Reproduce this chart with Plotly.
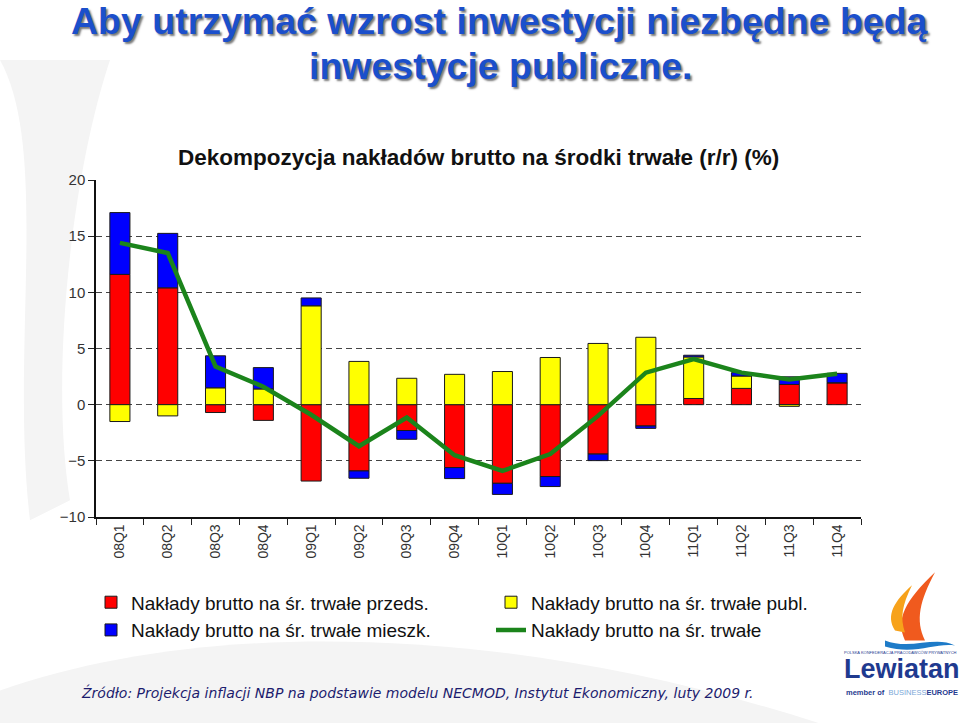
import plotly.graph_objects as go

# ---- data ----
quarters = ["08Q1", "08Q2", "08Q3", "08Q4", "09Q1", "09Q2", "09Q3", "09Q4",
            "10Q1", "10Q2", "10Q3", "10Q4", "11Q1", "11Q2", "11Q3", "11Q4"]
przeds = [11.6, 10.4, -0.7, -1.4, -6.8, -5.9, -2.3, -5.6,
          -7.0, -6.4, -4.4, -1.9, 0.55, 1.45, 1.8, 1.95]
publ = [-1.5, -1.0, 1.5, 1.4, 8.8, 3.85, 2.35, 2.7,
        2.95, 4.2, 5.45, 6.0, 3.7, 1.1, -0.15, 0.0]
mieszk = [5.5, 4.85, 2.85, 1.9, 0.7, -0.65, -0.78, -0.98,
          -0.99, -0.89, -0.58, -0.21, 0.15, 0.3, 0.68, 0.84]
ogolem = [14.4, 13.5, 3.4, 1.6, -0.9, -3.7, -1.15, -4.5,
          -5.9, -4.4, -1.0, 2.85, 4.05, 2.85, 2.25, 2.75]
y_ticks = [-10, -5, 0, 5, 10, 15, 20]

names = ["Nakłady brutto na śr. trwałe przeds.",
         "Nakłady brutto na śr. trwałe publ.",
         "Nakłady brutto na śr. trwałe mieszk.",
         "Nakłady brutto na śr. trwałe"]

# ---- layout geometry (pixels) ----
W, H = 959, 723
L, R, T, B = 96, 861, 180, 516.7
def px(x):
    return (x - L) / (R - L)
def py(y):
    return (B - y) / (B - T)

FONT = "Liberation Sans, Arial, sans-serif"

fig = go.Figure()
bar_line = dict(color="#1a1a1a", width=1)
fig.add_trace(go.Bar(x=quarters, y=przeds, name=names[0],
                     marker=dict(color="#FF0000", line=bar_line)))
fig.add_trace(go.Bar(x=quarters, y=publ, name=names[1],
                     marker=dict(color="#FFFF00", line=bar_line)))
fig.add_trace(go.Bar(x=quarters, y=mieszk, name=names[2],
                     marker=dict(color="#0000FF", line=bar_line)))
fig.add_trace(go.Scatter(x=quarters, y=ogolem, name=names[3], mode="lines",
                         line=dict(color="#1B841B", width=4.5)))

shapes = [
    # light grey background swooshes
    dict(type="path", xref="paper", yref="paper", layer="below",
         path=f"M {px(0)} {py(60)} C {px(50)} {py(150)}, {px(10)} {py(350)}, {px(30)} {py(520)} "
              f"L {px(70)} {py(500)} C {px(50)} {py(380)}, {px(70)} {py(180)}, {px(110)} {py(60)} Z",
         fillcolor="#f4f4f4", line=dict(width=0)),
    dict(type="path", xref="paper", yref="paper", layer="below",
         path=f"M {px(0)} {py(690)} C {px(200)} {py(620)}, {px(500)} {py(620)}, {px(820)} {py(723)} "
              f"L {px(0)} {py(723)} Z",
         fillcolor="#f4f4f4", line=dict(width=0)),
    # logo flame / wave
    dict(type="path", xref="paper", yref="paper",
         path=f"M {px(905)} {py(640)} C {px(895)} {py(620)}, {px(905)} {py(600)}, {px(935)} {py(572)} "
              f"C {px(920)} {py(600)}, {px(915)} {py(620)}, {px(925)} {py(640)} Z",
         fillcolor="#F05A1E", line=dict(width=0)),
    dict(type="path", xref="paper", yref="paper",
         path=f"M {px(895)} {py(630)} C {px(885)} {py(615)}, {px(895)} {py(600)}, {px(912)} {py(585)} "
              f"C {px(902)} {py(605)}, {px(900)} {py(618)}, {px(905)} {py(632)} Z",
         fillcolor="#F7A21B", line=dict(width=0)),
    dict(type="path", xref="paper", yref="paper",
         path=f"M {px(885)} {py(640)} C {px(910)} {py(650)}, {px(935)} {py(635)}, {px(955)} {py(645)} "
              f"C {px(935)} {py(642)}, {px(915)} {py(655)}, {px(885)} {py(646)} Z",
         fillcolor="#1E7BC8", line=dict(width=0)),
]

annotations = [
    dict(text="Aby utrzymać wzrost inwestycji niezbędne będą", x=px(500), y=py(21),
         font=dict(family=FONT, size=37.5, color="#1B4FCB", weight="bold",
                   shadow="2px 2px 2px #7a7a7a")),
    dict(text="inwestycje publiczne.", x=px(500), y=py(66),
         font=dict(family=FONT, size=37.5, color="#1B4FCB", weight="bold",
                   shadow="2px 2px 2px #7a7a7a")),
    dict(text="Dekompozycja nakładów brutto na środki trwałe (r/r) (%)", x=px(478), y=py(158),
         font=dict(family=FONT, size=22.5, color="#111111", weight="bold")),
    dict(text="<i>Źródło: Projekcja inflacji NBP na podstawie modelu NECMOD, Instytut Ekonomiczny, luty 2009 r.</i>",
         x=px(417), y=py(692),
         font=dict(family="DejaVu Sans, Verdana, sans-serif", size=14, color="#1c1c6e")),
    dict(text="POLSKA KONFEDERACJA PRACODAWCÓW PRYWATNYCH", x=px(900), y=py(652),
         font=dict(family=FONT, size=4, color="#1f3a8f")),
    dict(text="Lewiatan", x=px(902), y=py(669),
         font=dict(family=FONT, size=27, color="#1f3a8f", weight="bold")),
    dict(text="<b>member of</b>  <span style='color:#7aa7d8'>BUSINESS</span><b>EUROPE</b>",
         x=px(902), y=py(692), font=dict(family=FONT, size=7.5, color="#1f3a8f")),
]
for a in annotations:
    a.update(xref="paper", yref="paper", showarrow=False, xanchor="center", yanchor="middle")

fig.update_layout(
    width=W, height=H,
    margin=dict(l=L, r=W - R, t=T, b=H - B),
    paper_bgcolor="white", plot_bgcolor="rgba(0,0,0,0)",
    barmode="relative", bargap=0.58,
    font=dict(family=FONT, color="#333333"),
    showlegend=True,
    legend=dict(orientation="h", x=px(91), y=py(583), xanchor="left", yanchor="top",
                entrywidth=355, entrywidthmode="pixels", traceorder="normal",
                font=dict(family=FONT, size=19, color="#111111"),
                bgcolor="rgba(0,0,0,0)", itemwidth=30),
    xaxis=dict(type="category", tickson="boundaries", ticks="outside", ticklen=6,
               tickcolor="#222", tickangle=-90, showline=True, linecolor="#111", linewidth=1.5,
               tickfont=dict(family=FONT, size=14, color="#333"), showgrid=False),
    yaxis=dict(range=[-10, 20], tickvals=y_ticks, ticks="outside", ticklen=6, tickcolor="#222",
               showline=True, linecolor="#111", linewidth=1.5, showgrid=True,
               gridcolor="#444", gridwidth=1.2, griddash="6px,4px", zeroline=False,
               tickfont=dict(family=FONT, size=15, color="#333")),
    shapes=shapes, annotations=annotations,
)

fig.write_html("out.html", config={"displayModeBar": False},
               post_script="document.body.style.margin='0';document.body.style.padding='0';")
